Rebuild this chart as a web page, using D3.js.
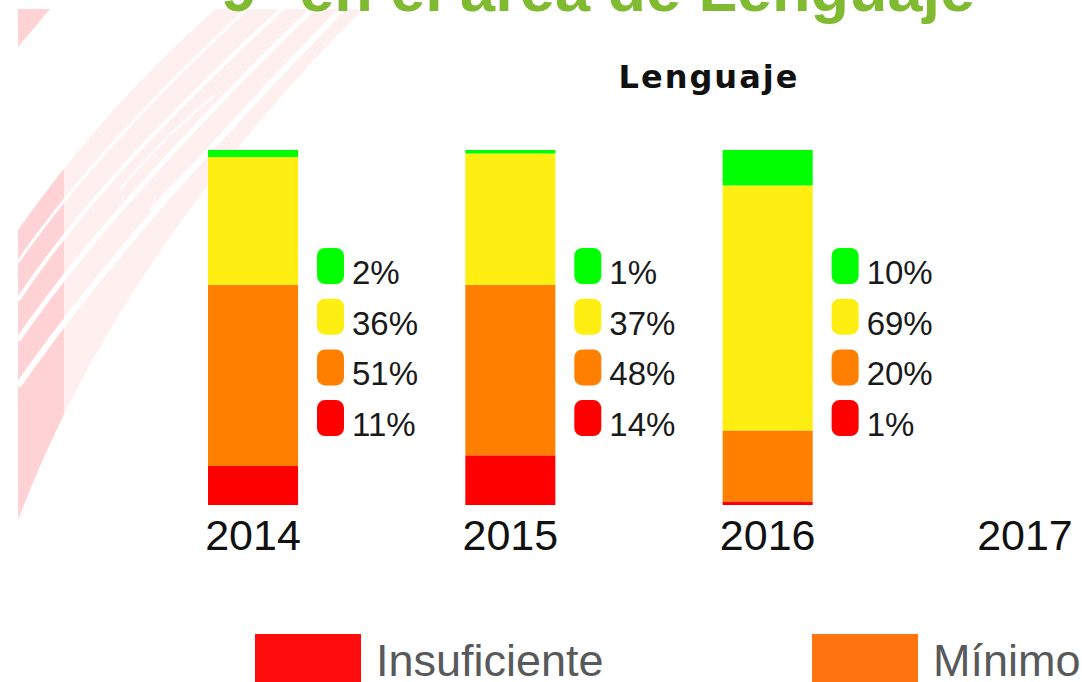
<!DOCTYPE html>
<html>
<head>
<meta charset="utf-8">
<script src="https://cdn.jsdelivr.net/npm/d3@7"></script>
<style>
  html, body { margin: 0; padding: 0; background: #fff; }
  svg { display: block; }
</style>
</head>
<body>
<div id="chart"></div>
<script>
// データ ------------------------------------------------------------------------------------
const years = ['2014', '2015', '2016', '2017'];
const levels = ['Insuficiente', 'Mínimo', 'Satisfactorio', 'Avanzado'];
const insuficiente = [11, 14, 1, null];
const minimo = [51, 48, 20, null];
const satisfactorio = [36, 37, 69, null];
const avanzado = [2, 1, 10, null];
const barColors = ['#ff0000', '#ff7f00', '#ffee11', '#00ff00'];
const legendColors = ['#ff0d0d', '#ff7410', '#ffee11', '#00ff00'];

// SVG領域 ------------------------------------------------------------------------------------
const width = 1082;
const height = 682;
const svg = d3.select('#chart').append('svg')
  .attr('width', width)
  .attr('height', height);

// 背景の飾り (左側の赤い帯) ------------------------------------------------------------------
const defs = svg.append('defs');
defs.append('clipPath').attr('id', 'deco-clip')
  .append('rect').attr('x', 18).attr('y', 9).attr('width', 400).attr('height', 520);
defs.append('clipPath').attr('id', 'deco-dark')
  .append('rect').attr('x', 18).attr('y', 9).attr('width', 46).attr('height', 520);

const band = 'M18,520 Q120,250 372,0 L226,0 Q110,100 18,230 Z';
const stripes = [
  {d: 'M18,262 Q95,150 250,6', w: 3},
  {d: 'M18,300 Q100,175 292,0', w: 4},
  {d: 'M18,340 Q110,205 322,0', w: 5},
  {d: 'M18,386 Q122,235 345,6', w: 6},
  {d: 'M120,190 Q160,140 215,95', w: 2},
  {d: 'M150,210 Q185,170 220,140', w: 2}
];
const deco = svg.append('g').attr('clip-path', 'url(#deco-clip)');
deco.append('path').attr('d', 'M18,9 L50,9 L18,47 Z').attr('fill', '#ffd3d6');
deco.append('path').attr('d', band).attr('fill', '#fff0f0');
deco.append('g').attr('clip-path', 'url(#deco-dark)')
  .append('path').attr('d', band).attr('fill', '#ffd3d6');
deco.selectAll('.stripe')
  .data(stripes)
  .enter()
  .append('path')
  .attr('class', 'stripe')
  .attr('d', d => d.d)
  .attr('fill', 'none')
  .attr('stroke', '#fff')
  .attr('stroke-width', d => d.w);

// 大見出し (上で切れている) -------------------------------------------------------------------
svg.append('text')
  .attr('x', 975)
  .attr('y', 11)
  .attr('text-anchor', 'end')
  .attr('font-family', '"Liberation Sans", Arial, sans-serif')
  .attr('font-weight', 'bold')
  .attr('font-size', '63px')
  .attr('fill', '#80ba30')
  .text('9° en el área de Lenguaje');

// 表名 --------------------------------------------------------------------------------------
svg.append('text')
  .attr('x', 709)
  .attr('y', 88)
  .attr('text-anchor', 'middle')
  .attr('font-family', '"DejaVu Sans", sans-serif')
  .attr('font-weight', 'bold')
  .attr('font-size', '32px')
  .attr('letter-spacing', '2px')
  .attr('fill', '#111')
  .text('Lenguaje');

// スケール ----------------------------------------------------------------------------------
const x = d3.scaleBand()
  .domain(years)
  .range([208, 1070])
  .paddingInner(0.65)
  .paddingOuter(0);
const y = d3.scaleLinear()
  .domain([0, 100])
  .range([505, 150]);
const color = d3.scaleOrdinal().domain(levels).range(barColors);

// データ作成 ---------------------------------------------------------------------------------
const series = [insuficiente, minimo, satisfactorio, avanzado];
const rows = years.map((yr, i) => {
  const r = {year: yr};
  levels.forEach((k, j) => r[k] = series[j][i]);
  return r;
}).filter(r => levels.every(k => r[k] != null));
const stacked = d3.stack().keys(levels)(rows);

// 積み上げ棒 --------------------------------------------------------------------------------
svg.append('g').selectAll('.layer')
  .data(stacked)
  .enter()
  .append('g')
  .attr('class', 'layer')
  .attr('fill', d => color(d.key))
  .selectAll('rect')
  .data(d => d)
  .enter()
  .append('rect')
  .attr('x', d => x(d.data.year))
  .attr('y', d => y(d[1]))
  .attr('width', x.bandwidth())
  .attr('height', d => y(d[0]) - y(d[1]));

// 棒の横の凡例 (上から Avanzado → Insuficiente) ----------------------------------------------
const rowStep = 50.7;
const sideLegend = svg.append('g').selectAll('.side')
  .data(rows)
  .enter()
  .append('g')
  .attr('class', 'side')
  .attr('transform', d => 'translate(' + (x(d.year) + 109) + ',248)');
const item = sideLegend.selectAll('.item')
  .data(d => levels.slice().reverse().map(k => ({key: k, value: d[k]})))
  .enter()
  .append('g')
  .attr('class', 'item')
  .attr('transform', (d, i) => 'translate(0,' + (i * rowStep) + ')');
item.append('rect')
  .attr('width', 27)
  .attr('height', 36)
  .attr('rx', 8)
  .attr('ry', 8)
  .attr('fill', d => color(d.key));
item.append('text')
  .attr('x', 35)
  .attr('y', 36)
  .attr('font-family', '"Liberation Sans", Arial, sans-serif')
  .attr('font-size', '33px')
  .attr('fill', '#1a1a1a')
  .text(d => d.value + '%');

// 年ラベル ----------------------------------------------------------------------------------
svg.append('g').selectAll('.year')
  .data(years)
  .enter()
  .append('text')
  .attr('class', 'year')
  .attr('x', d => x(d) + x.bandwidth() / 2)
  .attr('y', 550)
  .attr('text-anchor', 'middle')
  .attr('font-family', '"Liberation Sans", Arial, sans-serif')
  .attr('font-size', '43px')
  .attr('fill', '#111')
  .text(d => d);

// 下の凡例 (画面に入る分だけ) ------------------------------------------------------------------
const legendStep = 557;
const legend = svg.append('g').selectAll('.legend')
  .data(levels.filter((d, i) => 255 + i * legendStep < width))
  .enter()
  .append('g')
  .attr('class', 'legend')
  .attr('transform', (d, i) => 'translate(' + (255 + i * legendStep) + ',634)');
legend.append('rect')
  .attr('width', 106)
  .attr('height', 60)
  .attr('fill', (d, i) => legendColors[i]);
legend.append('text')
  .attr('x', 121)
  .attr('y', 42)
  .attr('font-family', '"Liberation Sans", Arial, sans-serif')
  .attr('font-size', '45px')
  .attr('fill', '#58595b')
  .text(d => d);
</script>
</body>
</html>
